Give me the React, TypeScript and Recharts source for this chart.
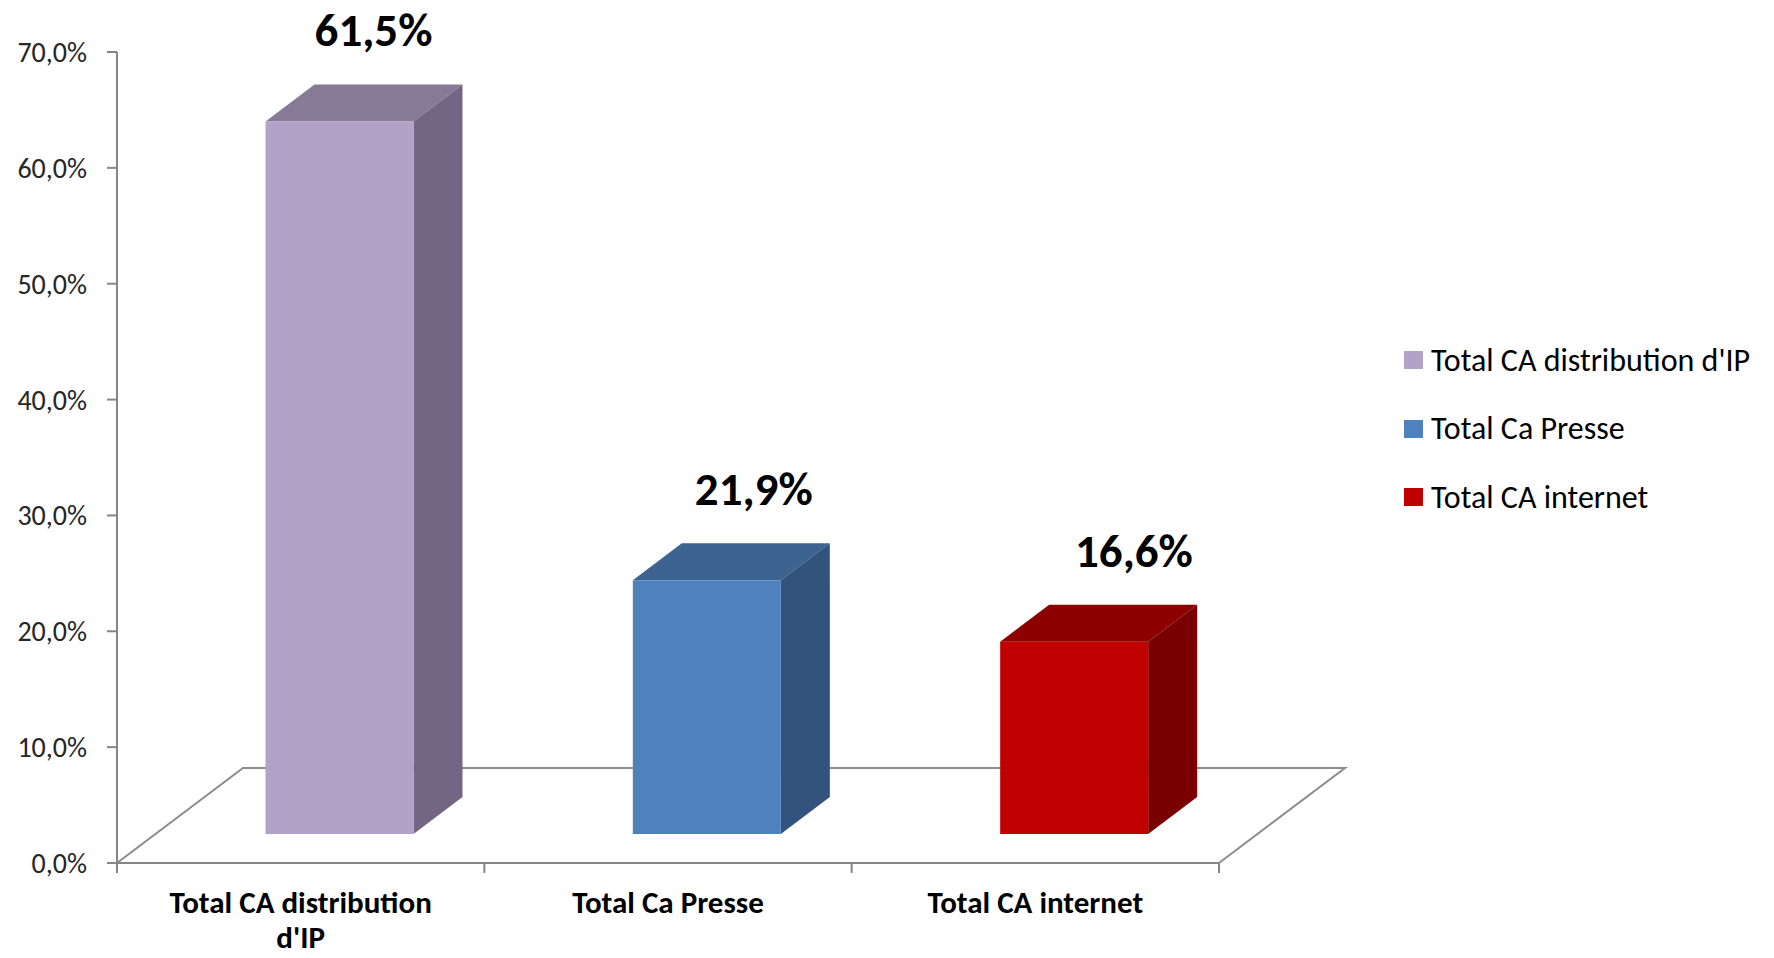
import React from "react";
import { BarChart, Bar, XAxis, YAxis, Cell, LabelList, Legend, Customized } from "recharts";

const categories = ["Total CA distribution d'IP", "Total Ca Presse", "Total CA internet"];
const shares = [0.615, 0.219, 0.166];
const frontColors = ["#B3A2C7", "#4F81BD", "#C00000"];
const topColors = ["#877A97", "#3D6390", "#8C0000"];
const sideColors = ["#736684", "#32537B", "#7A0000"];
const yTicks = [0, 0.1, 0.2, 0.3, 0.4, 0.5, 0.6, 0.7];

const data = categories.map((name, i) => ({ name, value: shares[i] }));

const W = 1774;
const H = 958;
const PLOT_LEFT = 117;
const PLOT_TOP = 52;
const PLOT_RIGHT = 1219;
const PLOT_BOTTOM = 863;
const FONT = "Calibri, Carlito, Lato, sans-serif";
const AXIS_GREY = "#868686";

// 3d depth of the floor and of the boxes
const FLOOR_DX = 126;
const FLOOR_DY = -95;
const BOX_DX = 49;
const BOX_DY = -37;
const OFF_X = (FLOOR_DX - BOX_DX) / 2;
const OFF_Y = (FLOOR_DY - BOX_DY) / 2;

const pct = (v: number) => (v * 100).toFixed(1).replace(".", ",") + "%";

const Box = (props: any) => {
  const { x, y, width, height, index } = props;
  const fx = x + OFF_X;
  const fy = y + OFF_Y;
  return (
    <g>
      <polygon
        points={`${fx},${fy} ${fx + BOX_DX},${fy + BOX_DY} ${fx + width + BOX_DX},${fy + BOX_DY} ${fx + width},${fy}`}
        fill={topColors[index]}
      />
      <polygon
        points={`${fx + width},${fy} ${fx + width + BOX_DX},${fy + BOX_DY} ${fx + width + BOX_DX},${fy + height + BOX_DY} ${fx + width},${fy + height}`}
        fill={sideColors[index]}
      />
      <rect x={fx} y={fy} width={width} height={height} fill={frontColors[index]} />
    </g>
  );
};

const Floor = () => {
  const band = (PLOT_RIGHT - PLOT_LEFT) / categories.length;
  const ticks = [0, 1, 2, 3].map((i) => PLOT_LEFT + i * band);
  return (
    <g stroke="#8C8C8C" strokeWidth={2} fill="none">
      <polyline
        points={`${PLOT_LEFT},${PLOT_BOTTOM} ${PLOT_LEFT + FLOOR_DX},${PLOT_BOTTOM + FLOOR_DY} ${PLOT_RIGHT + FLOOR_DX},${PLOT_BOTTOM + FLOOR_DY} ${PLOT_RIGHT},${PLOT_BOTTOM}`}
      />
      {ticks.map((t, i) => (
        <line key={i} x1={t} y1={PLOT_BOTTOM} x2={t} y2={PLOT_BOTTOM + 10} stroke={AXIS_GREY} />
      ))}
    </g>
  );
};

const CategoryTick = (props: any) => {
  const { x, y, payload } = props;
  const words = String(payload.value).split(" ");
  const lines = payload.value.length > 22 ? [words.slice(0, -1).join(" "), words[words.length - 1]] : [payload.value];
  return (
    <text x={x} y={y} textAnchor="middle" fontFamily={FONT} fontWeight="bold" fontSize={31} fill="#000">
      {lines.map((l: string, i: number) => (
        <tspan key={i} x={x} dy={i === 0 ? 50 : 35}>
          {l}
        </tspan>
      ))}
    </text>
  );
};

const ValueLabel = (props: any) => {
  const { x, y, width, value } = props;
  const frontCenter = x + OFF_X + width / 2;
  const cx = frontCenter + 34 + (frontCenter - 338) * 0.035;
  const backTop = y + OFF_Y + BOX_DY;
  return (
    <text x={cx} y={backTop - 38} textAnchor="middle" fontFamily={FONT} fontWeight="bold" fontSize={47} fill="#000">
      {pct(value)}
    </text>
  );
};

const LegendBox = () => (
  <div style={{ fontFamily: FONT, fontSize: 32, color: "#000" }}>
    {categories.map((c, i) => (
      <div key={c} style={{ display: "flex", alignItems: "center", height: 68.5 }}>
        <span style={{ width: 19, height: 18, background: frontColors[i], marginRight: 8, display: "inline-block" }} />
        <span>{c}</span>
      </div>
    ))}
  </div>
);

export default function App() {
  return (
    <div style={{ position: "absolute", left: 0, top: 0, width: W, height: H, background: "#fff" }}>
      <BarChart
        width={W}
        height={H}
        data={data}
        margin={{ top: PLOT_TOP, right: W - PLOT_RIGHT, bottom: 0, left: 0 }}
      >
        <Customized component={Floor} />
        <YAxis
          width={PLOT_LEFT}
          domain={[0, 0.7]}
          ticks={yTicks}
          tickFormatter={pct}
          axisLine={{ stroke: AXIS_GREY, strokeWidth: 2 }}
          tickLine={{ stroke: AXIS_GREY, strokeWidth: 2 }}
          tickSize={10}
          tickMargin={20}
          tick={{ fill: "#262626", fontSize: 28, fontFamily: FONT }}
        />
        <XAxis
          dataKey="name"
          height={H - PLOT_BOTTOM}
          interval={0}
          axisLine={{ stroke: AXIS_GREY, strokeWidth: 2 }}
          tickLine={false}
          tickSize={0}
          tickMargin={0}
          tick={<CategoryTick />}
        />
        <Legend
          layout="vertical"
          align="center"
          verticalAlign="middle"
          content={<LegendBox />}
          wrapperStyle={{ left: 1404, top: 326, width: 370 }}
        />
        <Bar dataKey="value" barSize={148} shape={<Box />} isAnimationActive={false}>
          {data.map((d, i) => (
            <Cell key={d.name} fill={frontColors[i]} />
          ))}
          <LabelList dataKey="value" content={<ValueLabel />} />
        </Bar>
      </BarChart>
    </div>
  );
}
